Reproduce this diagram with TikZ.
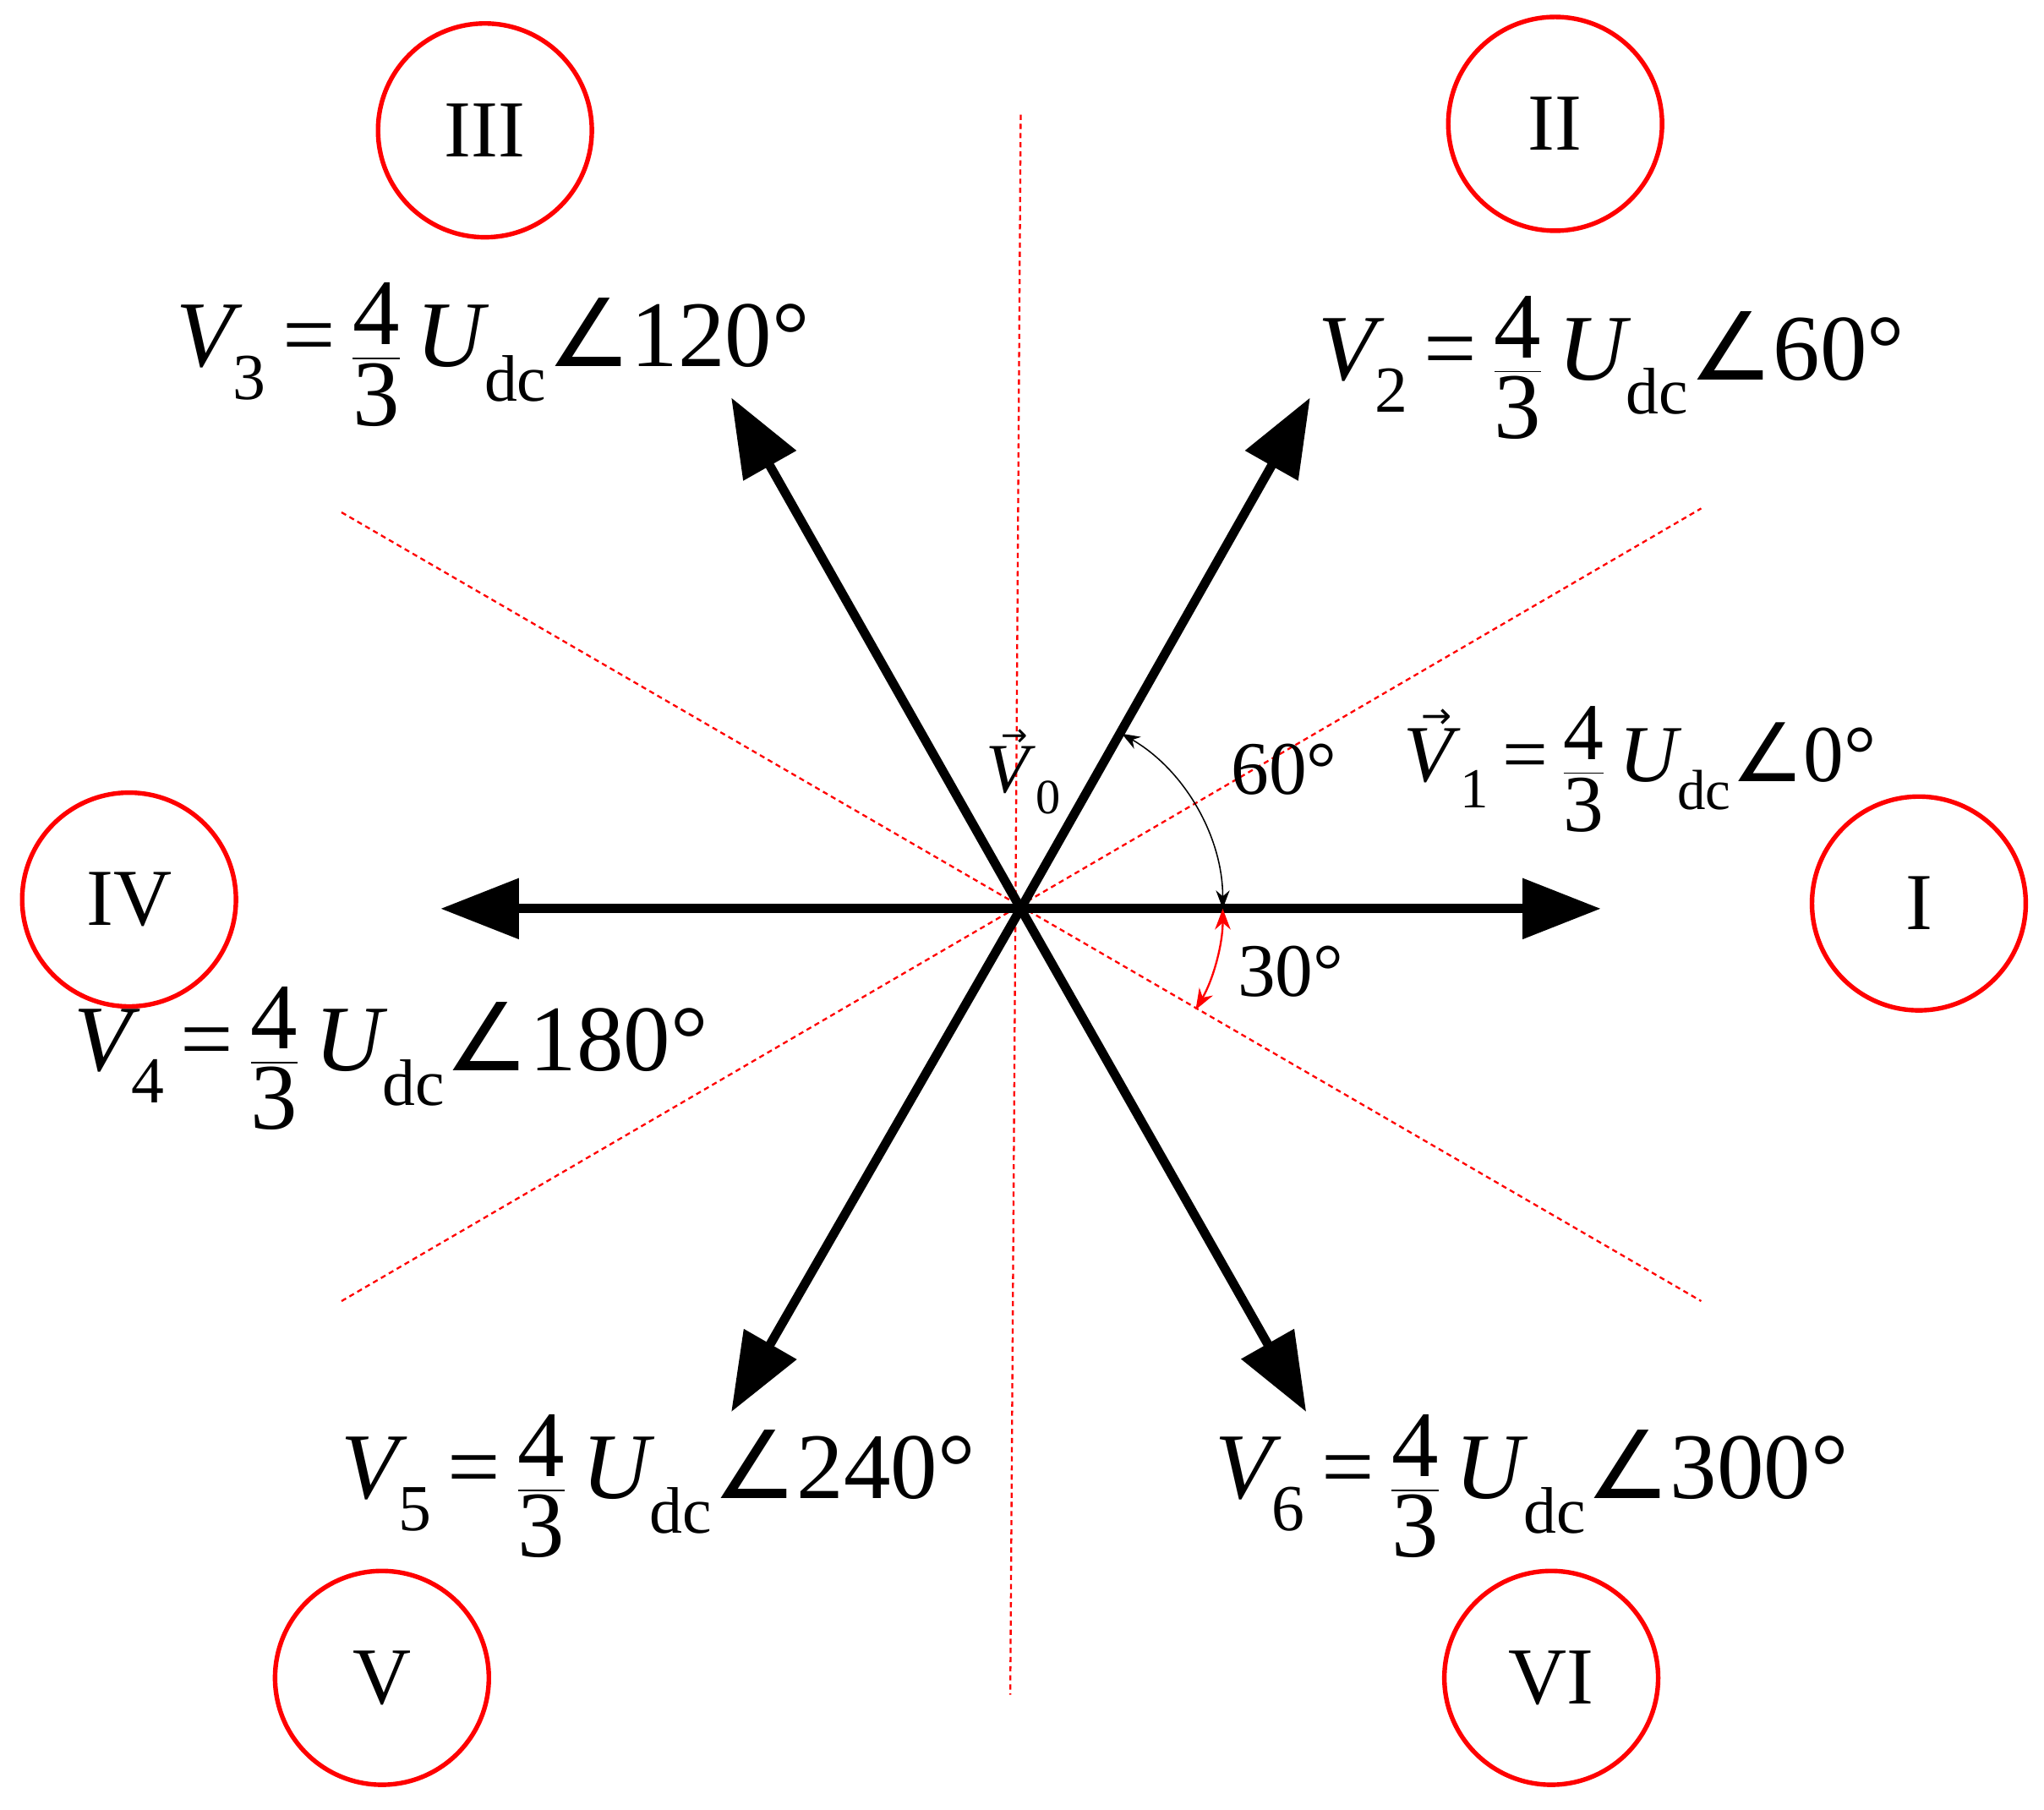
\documentclass[tikz,border=0pt]{standalone}
\usepackage{amsmath}
\usepackage{fontspec}
\setmainfont{Liberation Serif}
\newfontfamily\dv{DejaVu Sans}
\usetikzlibrary{arrows.meta,calc}
\newcommand{\ang}{{\dv\char"2220}}
\newcommand{\arrV}{\makebox[0pt][l]{\hspace{0.22em}\raisebox{0.66em}{\scalebox{0.45}{\dv →}}}\textit{V}}
\newcommand{\frc}{$\dfrac{\text{4}}{\text{3}}$}
\newcommand{\vlab}[2]{{\itshape V}\textsubscript{#1}\,=\,\frc\,{\itshape U}\textsubscript{dc}\ang#2°}
\begin{document}
\begin{tikzpicture}[x=1pt,y=-1pt,
  vec/.style={line width=7pt,-{Triangle[length=60pt,width=45pt]}},
  guide/.style={red,line width=1.5pt,dash pattern=on 4pt off 3pt},
  sect/.style={draw=red,line width=3.5pt,circle,minimum size=164pt,inner sep=0pt,font=\fontsize{62}{70}\selectfont},
  lab/.style={font=\fontsize{72}{78}\selectfont,inner sep=0pt}]
\useasboundingbox (0,0) rectangle (1568,1388);
\coordinate (o) at (783,697);
\draw[guide] (783,88) -- (775,1300);
\draw[guide] (262,393) -- (1305,998);
\draw[guide] (262,998) -- (1305,390);
\coordinate (e1) at (1228,697);
\coordinate (e2) at (1005,305);
\coordinate (e3) at (561,305);
\coordinate (e4) at (338,697);
\coordinate (e5) at (561,1083);
\coordinate (e6) at (1002,1083);
\foreach \e in {e1,e2,e3,e4,e5,e6} \draw[vec] (o) -- (\e);
\draw[{Stealth[length=14pt]}-{Stealth[length=14pt]}, line width=1pt] ($(o)+(-60:155)$) arc[start angle=-60,end angle=0,radius=155];
\draw[red,{Stealth[length=16pt]}-{Stealth[length=16pt]}, line width=1.5pt] ($(o)+(0:155)$) arc[start angle=0,end angle=30,radius=155];
\node[sect] (c3) at (372,100) {III};
\node[sect] (c2) at (1193,95) {II};
\node[sect] (c4) at (99,690) {IV};
\node[sect] (c1) at (1472,693) {I};
\node[sect] (c5) at (293,1287) {V};
\node[sect] (c6) at (1190,1287) {VI};
\node[lab] (l3) at (378,272) {\vlab{3}{120}};
\node[lab] (l2) at (1236,282) {\vlab{2}{60}};
\node[lab,font=\fontsize{62}{68}\selectfont] (l1) at (1258,590) {\arrV\textsubscript{1}\,=\,\frc\,{\itshape U}\textsubscript{dc}\ang0°};
\node[lab] (l4) at (300,812) {\vlab{4}{180}};
\node[lab] (l5) at (505,1140) {\vlab{5}{240}};
\node[lab] (l6) at (1175,1140) {\vlab{6}{300}};
\node[lab,font=\fontsize{54}{60}\selectfont] (l0) at (785,592) {\arrV\textsubscript{0}};
\node[lab,font=\fontsize{58}{60}\selectfont] (a60) at (985,590) {60°};
\node[lab,font=\fontsize{58}{60}\selectfont] (a30) at (990,745) {30°};
\end{tikzpicture}
\end{document}
